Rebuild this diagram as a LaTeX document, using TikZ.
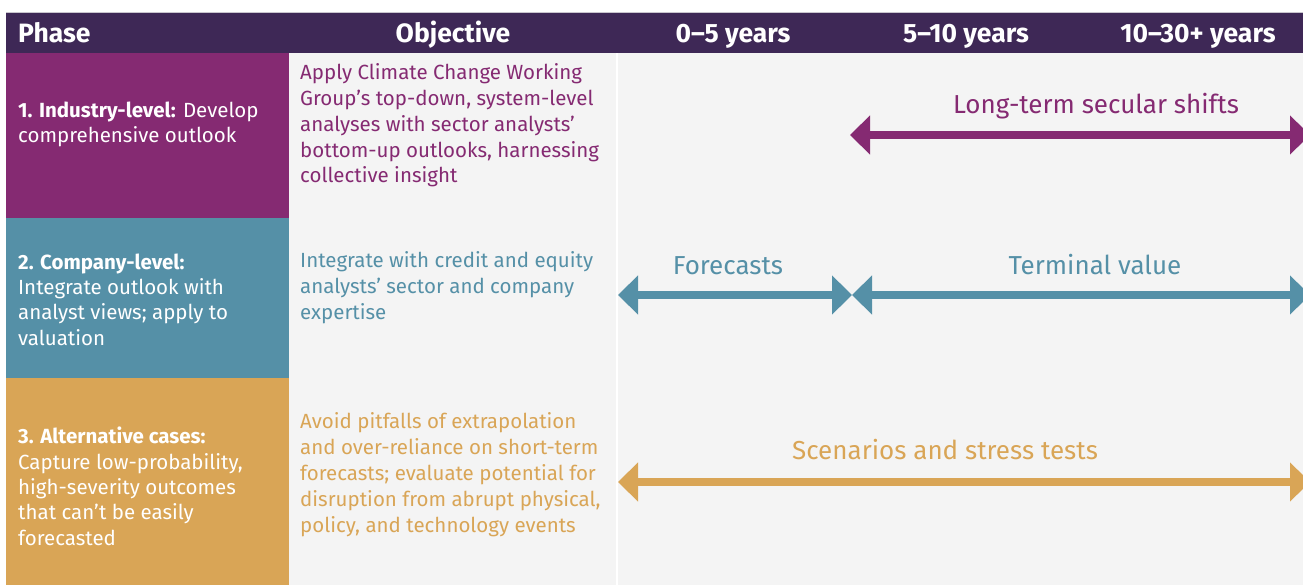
\documentclass[tikz,border=0pt]{standalone}
\usepackage{fontspec}
\setmainfont{Fira Sans}
\usetikzlibrary{arrows.meta}

\definecolor{cHeader}{HTML}{3E2856}
\definecolor{cPlum}{HTML}{852A72}
\definecolor{cTeal}{HTML}{5590A7}
\definecolor{cGold}{HTML}{D9A556}
\definecolor{cPanel}{HTML}{F4F4F4}
\definecolor{cRule}{HTML}{C9C6CE}

% multi-line texts are anchored at the baseline of their last line
\tikzset{
  headtxt/.style={text=white, inner sep=0pt, anchor=base,
    font=\fontsize{26.5}{29}\selectfont\bfseries},
  phasetxt/.style={text=white, inner sep=0pt, anchor=base west, align=left,
    font=\fontsize{20.5}{25.3}\selectfont},
  objtxt/.style={inner sep=0pt, anchor=base west, align=left,
    font=\fontsize{20.5}{25.8}\selectfont},
  spanlbl/.style={inner sep=0pt, anchor=base, font=\fontsize{26}{29}\selectfont},
  span/.style={line width=8pt,
    {Triangle[length=20pt,width=38pt]}-{Triangle[length=20pt,width=38pt]}},
}

\begin{document}
\begin{tikzpicture}[x=1pt,y=-1pt]
  \useasboundingbox (0,0) rectangle (1303,585);
  \clip (0,0) rectangle (1303,585);

  % background panels
  \fill[white] (0,0) rectangle (1303,585);
  \fill[cPanel] (289,53) rectangle (616,585);
  \fill[cPanel] (618,53) rectangle (1303,585);

  % header bar
  \fill[cHeader] (6,13) rectangle (1303,53);
  \draw[cRule, line width=1pt] (6,12.5) -- (1303,12.5);
  \node[headtxt, anchor=base west] (hPhase) at (18,43) {Phase};
  \node[headtxt] (hObj) at (453,43) {Objective};
  \node[headtxt] (hA) at (733,43) {0–5 years};
  \node[headtxt] (hB) at (966,43) {5–10 years};
  \node[headtxt] (hC) at (1198,43) {10–30+ years};

  % phase boxes
  \fill[cPlum] (6,53) rectangle (289,218);
  \fill[cTeal] (6,218) rectangle (289,378);
  \fill[cGold] (6,378) rectangle (289,585);

  \node[phasetxt] (p1) at (18,143)
    {\textbf{1. Industry-level:} Develop\\comprehensive outlook};
  \node[phasetxt] (p2) at (18,345)
    {\textbf{2. Company-level:}\\Integrate outlook with\\analyst views; apply to\\valuation};
  \node[phasetxt] (p3) at (18,545)
    {\textbf{3. Alternative cases:}\\Capture low-probability,\\high-severity outcomes\\that can’t be easily\\forecasted};

  % objectives
  \node[objtxt, text=cPlum] (o1) at (300,183)
    {Apply Climate Change Working\\Group’s top-down, system-level\\analyses with sector analysts’\\bottom-up outlooks, harnessing\\collective insight};
  \node[objtxt, text=cTeal] (o2) at (300,319)
    {Integrate with credit and equity\\analysts’ sector and company\\expertise};
  \node[objtxt, text=cGold] (o3) at (300,532)
    {Avoid pitfalls of extrapolation\\and over-reliance on short-term\\forecasts; evaluate potential for\\disruption from abrupt physical,\\policy, and technology events};

  % time spans
  \coordinate (s1a) at (850,135);
  \coordinate (s1b) at (1310,135);
  \coordinate (s2a) at (618,295);
  \coordinate (s2b) at (852,295);
  \coordinate (s2c) at (1310,295);
  \coordinate (s3a) at (618,482);
  \coordinate (s3b) at (1310,482);

  \draw[span, cPlum] (s1a) -- (s1b);
  \draw[span, cTeal] (s2a) -- (s2b);
  \draw[span, cTeal] (s2b) -- (s2c);
  \draw[span, cGold] (s3a) -- (s3b);

  \node[spanlbl, text=cPlum] (l1) at (1096,114) {Long-term secular shifts};
  \node[spanlbl, text=cTeal] (l2) at (728,274) {Forecasts};
  \node[spanlbl, text=cTeal] (l3) at (1095,274) {Terminal value};
  \node[spanlbl, text=cGold] (l4) at (945,459) {Scenarios and stress tests};
\end{tikzpicture}
\end{document}
